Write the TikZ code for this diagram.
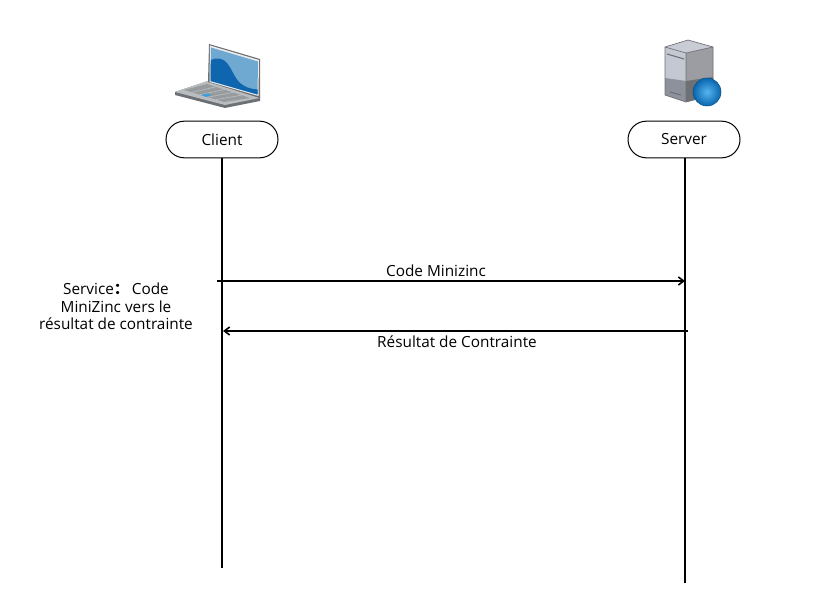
\documentclass[tikz,border=0pt]{standalone}
\usepackage{fontspec}
\setmainfont{Open Sans}
\newfontfamily\cjkf{Noto Sans CJK SC}
\usetikzlibrary{arrows.meta,shapes.misc,calc}
\definecolor{scrA}{HTML}{6FA8D0}
\definecolor{scrB}{HTML}{0F66AE}
\definecolor{lapG}{HTML}{B9BDC0}
\definecolor{lapD}{HTML}{6C7074}
\definecolor{srvL}{HTML}{C3C8D2}
\definecolor{srvM}{HTML}{9B9DA2}
\definecolor{srvD}{HTML}{6E7074}
\definecolor{srvT}{HTML}{C9CCD4}
\definecolor{srvB}{HTML}{8D919B}
\definecolor{ballA}{HTML}{55B4F0}
\definecolor{ballB}{HTML}{0A66AE}
\tikzset{
 actor/.style={draw=black,line width=0.75pt,rounded rectangle,minimum width=84pt,minimum height=27.5pt,inner sep=0pt,font=\fontsize{11.5pt}{13pt}\selectfont},
 lifeline/.style={draw=black,line width=1.5pt},
 msg/.style={draw=black,line width=1.3pt,-{Straight Barb[length=4pt,width=6pt,line width=1.2pt]}},
 lbl/.style={inner sep=0pt,font=\fontsize{11.5pt}{13.1pt}\selectfont,align=center}
}
\begin{document}
\begin{tikzpicture}[x=0.75pt,y=-0.75pt]
\useasboundingbox (0,0) rectangle (817,613);
% laptop
\fill[lapD] (175,92) -- (208,81) -- (260,97) -- (260,101) -- (225,108) -- (175,95) -- cycle;
\fill[lapG] (175,92) -- (208,81) -- (260,98) -- (225,105) -- cycle;
\fill[lapD!70] (184,90) -- (207,84) -- (250,98) -- (224,102) -- cycle;
\foreach \t in {0.2,0.4,0.6,0.8} \draw[lapG,line width=0.5pt] ($(184,90)!\t!(224,102)$) -- ($(207,84)!\t!(250,98)$);
\fill[ballA!70!scrB] (201,95) -- (207,93.5) -- (212,95) -- (206,97) -- cycle;
\fill[lapD] (208,82) -- (209,44) -- (260,59) -- (260,98) -- cycle;
\fill[white!85!gray] (209.5,82) -- (210,45.5) -- (259,60) -- (258.5,96) -- cycle;
\fill[scrA] (210.5,81) -- (211,47.5) -- (258,61.5) -- (257.5,94.5) -- cycle;
\fill[scrB] (210.5,81) -- (210.8,60) .. controls (216,57.5) and (222,57.5) .. (227,63) .. controls (232,69) and (234,77) .. (240,83) .. controls (245,87) and (250,89) .. (257.5,89.5) -- (257.5,94.5) -- cycle;
% server
\fill[srvT] (665,47) -- (688,40) -- (713,47) -- (686,53) -- cycle;
\fill[srvL] (665,47) -- (686,53) -- (686,102) -- (665,95) -- cycle;
\fill[srvB] (665,78) -- (686,81) -- (686,102) -- (665,95) -- cycle;
\fill[srvM] (686,53) -- (713,47) -- (713,95) -- (686,102) -- cycle;
\fill[srvD] (686,81) -- (713,77) -- (713,95) -- (686,102) -- cycle;
\draw[srvD,line width=0.5pt] (665,47) -- (688,40) -- (713,47) -- (713,95) -- (686,102) -- (665,95) -- cycle;
\draw[srvD,line width=0.5pt] (665,47) -- (686,53) -- (713,47) (686,53) -- (686,102);
\draw[srvD,line width=0.8pt] (667,54) -- (684,59) (670,92) -- (681,95);
\shade[inner color=ballA,outer color=ballB,draw=ballB!80!black,line width=0.4pt] (707,92) circle (14);
% actors
\node[actor] (client) at (222,139.5) {Client};
\node[actor] (server) at (684,139.5) {Server};
\coordinate (clientEnd) at (222,568);
\coordinate (serverEnd) at (685,583);
\draw[lifeline] (client.south) -- (clientEnd);
\draw[lifeline] (server.south -| serverEnd) -- (serverEnd);
% messages
\coordinate (m1s) at (217,281);
\coordinate (m1e) at (685,281);
\coordinate (m2s) at (688,331);
\coordinate (m2e) at (223,331);
\draw[msg] (m1s) -- (m1e);
\draw[msg] (m2s) -- (m2e);
\node[lbl] (l1) at (436,270.5) {Code Minizinc};
\node[lbl] (l2) at (457,342) {Résultat de Contrainte};
\node[lbl] (svc) at (116,306.5) {Service{\cjkf\bfseries：}\,Code\\MiniZinc vers le\\résultat de contrainte};
\end{tikzpicture}
\end{document}
